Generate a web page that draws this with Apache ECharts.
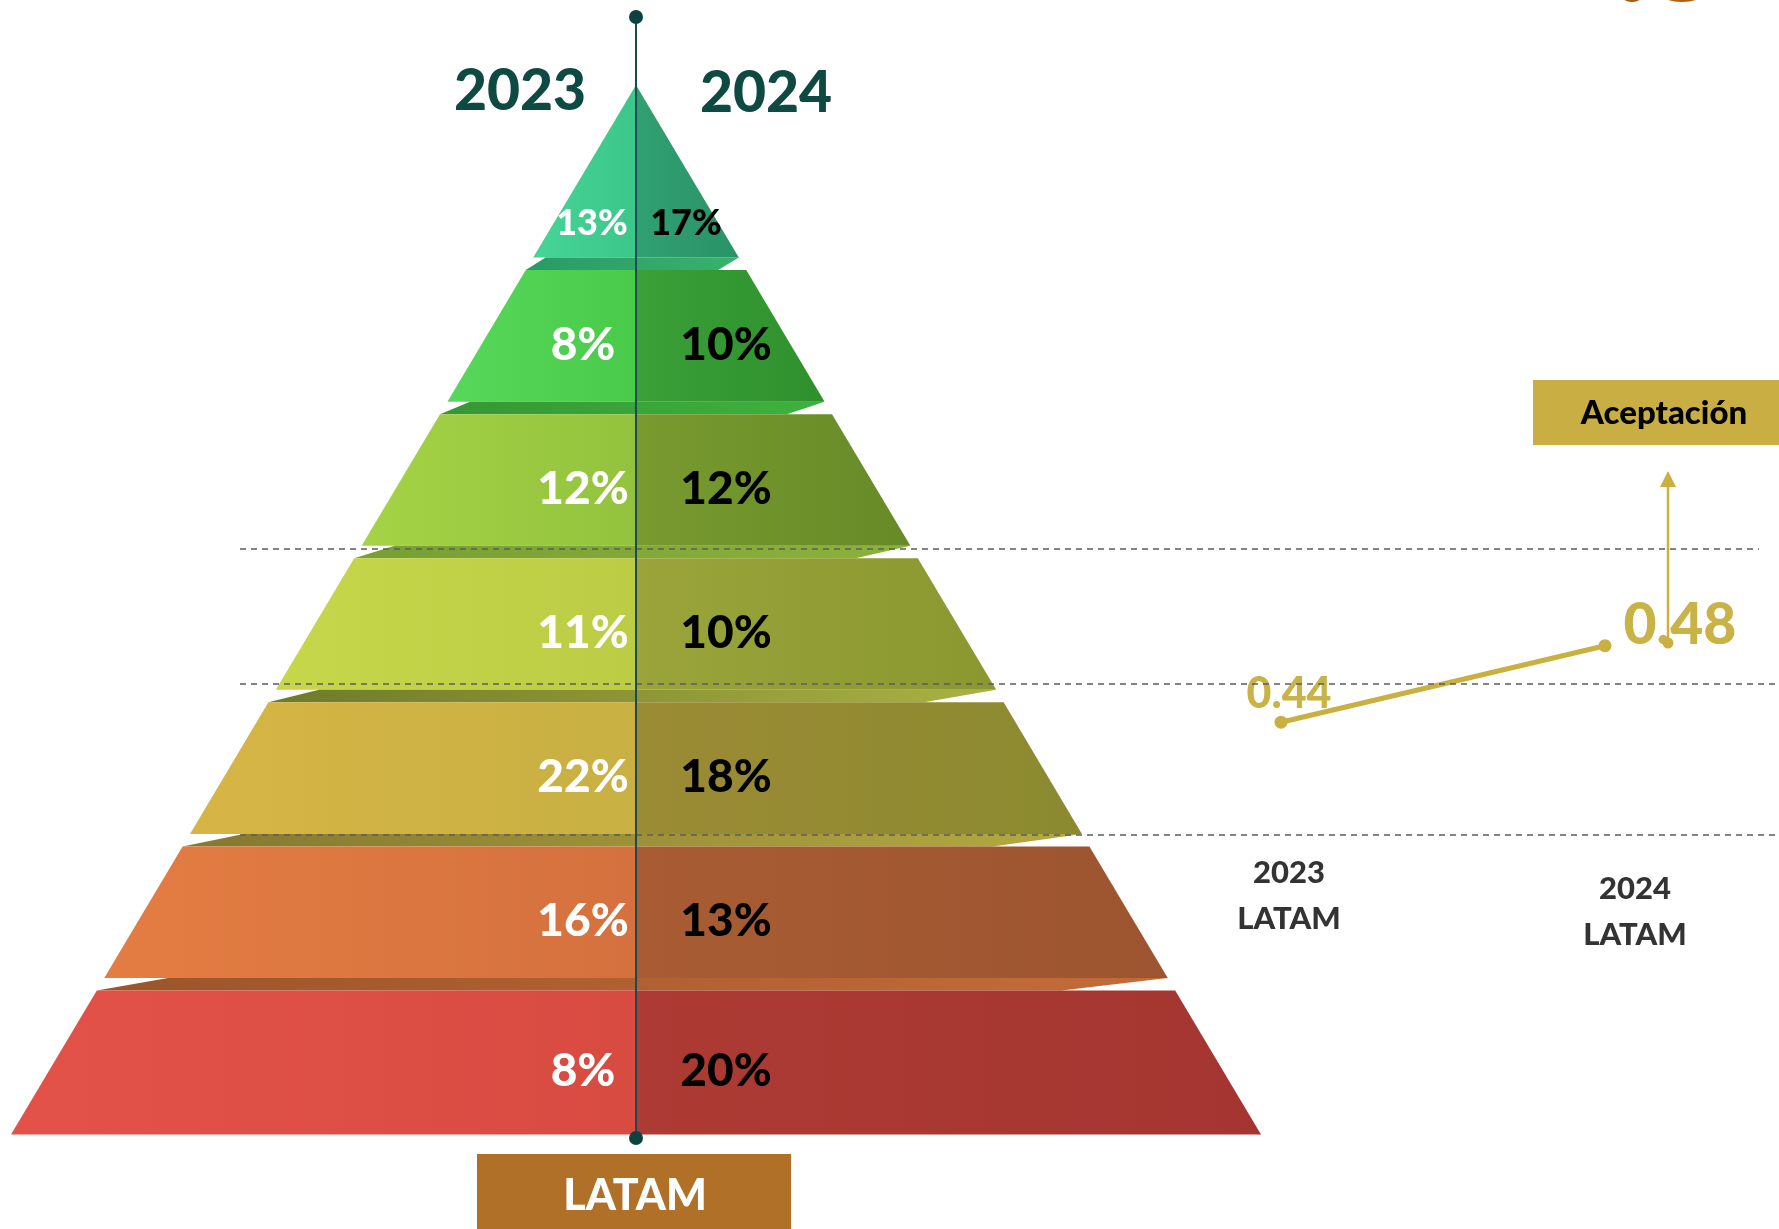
<!DOCTYPE html>
<html>
<head>
<meta charset="utf-8">
<script src="https://cdn.jsdelivr.net/npm/echarts@6/dist/echarts.min.js"></script>
<style>
html,body{margin:0;padding:0;background:#fff;}
#chart{width:1779px;height:1229px;}
</style>
</head>
<body>
<div id="chart"></div>
<script>
// Niveles de la pirámide, de la punta a la base
const niveles = ['N1', 'N2', 'N3', 'N4', 'N5', 'N6', 'N7'];
const pct2023 = [13, 8, 12, 11, 22, 16, 8];
const pct2024 = [17, 10, 12, 10, 18, 13, 20];

// Índice de aceptación LATAM
const periodos = ['2023\nLATAM', '2024\nLATAM'];
const aceptacion = [0.44, 0.48];

// Paleta por nivel: cara 2023 (clara), cara 2024 (oscura) y franja inferior
const colIzq = [
  ['#46d497', '#3cc68a'], ['#58d85a', '#4aca4a'], ['#a5d345', '#93c23e'],
  ['#c6d74a', '#bccc45'], ['#d6b545', '#c8b043'], ['#e37d43', '#d5713e'],
  ['#e35249', '#d84b41']
];
const colDer = [
  ['#30a072', '#2a9268'], ['#3aa037', '#2e902d'], ['#789a2f', '#678a28'],
  ['#9aa43b', '#8a982f'], ['#9b8b35', '#8b8a30'], ['#a95c33', '#9c5530'],
  ['#ad3b34', '#a43530']
];
const colFranja = [
  ['#2a9a66', '#38b26c'], ['#379635', '#3db23d'], ['#76a032', '#8cb23a'],
  ['#6e7a2a', '#aab242'], ['#857830', '#b4aa40'], ['#9a552a', '#c46c3a']
];

const APEX = 0.285;   // altura de la punta por encima de la primera banda (en bandas)
const FRANJA = 12.5;  // grosor de la cara inferior de cada escalón (px)
const FONT = 'Lato';
const PESO = 900;

function grad(c) {
  return new echarts.graphic.LinearGradient(0, 0, 1, 0, [
    { offset: 0, color: c[0] }, { offset: 1, color: c[1] }
  ]);
}

// Geometría de un escalón a partir de los ejes de la rejilla
function geom(params, api) {
  const i = api.value(1);
  const c = api.coord([0, i]);
  const u = api.coord([1, i])[0] - c[0];
  const band = api.size([0, 1])[1];
  const cs = params.coordSys;
  const baseY = cs.y + cs.height;
  const apexY = cs.y - APEX * band;
  const hw = y => u * (y - apexY) / (baseY - apexY);
  const last = i === niveles.length - 1;
  const top = i === 0 ? apexY : c[1] - band / 2;
  const bot = c[1] + band / 2 - (last ? 0 : FRANJA);
  const ly = i === 0 ? bot - 34 : (top + bot) / 2 + 9;
  return { i, cx: c[0], top, bot, hw, last, ly };
}

function renderIzq(params, api) {
  const g = geom(params, api);
  const { i, cx, top, bot, hw } = g;
  const children = [{
    type: 'polygon',
    shape: { points: [[cx - hw(top), top], [cx, top], [cx, bot], [cx - hw(bot), bot]] },
    style: { fill: grad(colIzq[i]) }
  }];
  if (!g.last) {
    const s0 = bot, s1 = bot + FRANJA, w0 = hw(s0);
    children.push({
      type: 'polygon',
      shape: { points: [[cx - w0 * 0.88, s0], [cx + w0, s0], [cx + w0 * 0.8, s1], [cx - hw(s1), s1]] },
      style: { fill: grad(colFranja[i]) }
    });
  }
  children.push({
    type: 'text',
    style: {
      text: api.value(2) + '%', x: cx + (i === 0 ? -44 : -53), y: g.ly,
      align: 'center', verticalAlign: 'middle', fill: '#ffffff',
      fontSize: i === 0 ? 36 : 46, fontWeight: PESO, fontFamily: FONT
    }
  });
  return { type: 'group', children };
}

function renderDer(params, api) {
  const g = geom(params, api);
  const { i, cx, top, bot, hw } = g;
  return {
    type: 'group',
    children: [{
      type: 'polygon',
      shape: { points: [[cx, top], [cx + hw(top), top], [cx + hw(bot), bot], [cx, bot]] },
      style: { fill: grad(colDer[i]) }
    }, {
      type: 'text',
      style: {
        text: api.value(2) + '%', x: cx + (i === 0 ? 50 : 90), y: g.ly,
        align: 'center', verticalAlign: 'middle', fill: '#000000',
        fontSize: i === 0 ? 36 : 46, fontWeight: PESO, fontFamily: FONT
      }
    }]
  };
}

const dorado = '#c9b040';
const dash = { stroke: '#5c5c5c', lineWidth: 1.5, lineDash: [6, 5] };

const option = {
  animation: false,
  backgroundColor: '#ffffff',
  grid: [
    { left: 11, right: 518, top: 126, bottom: 94.4, outerBoundsMode: 'none' },
    { left: 1119, right: 12, top: 607.45, bottom: 392.05, outerBoundsMode: 'none' }
  ],
  xAxis: [
    { type: 'value', gridIndex: 0, min: -1, max: 1, show: false },
    {
      type: 'category', gridIndex: 1,
      data: periodos.map((p, k) => ({
        value: p,
        textStyle: k === 0 ? { padding: [0, 0, 0, 16] } : { padding: [16, 0, 0, 60] }
      })),
      axisLine: { show: false }, axisTick: { show: false }, splitLine: { show: false },
      axisLabel: {
        fontSize: 31, fontWeight: PESO, color: '#333333', fontFamily: FONT,
        lineHeight: 46, margin: 13
      }
    }
  ],
  yAxis: [
    { type: 'category', gridIndex: 0, data: niveles, inverse: true, show: false },
    { type: 'value', gridIndex: 1, min: 0.38, max: 0.5, show: false }
  ],
  series: [
    {
      type: 'custom', name: '2023', xAxisIndex: 0, yAxisIndex: 0,
      renderItem: renderIzq, encode: { x: 0, y: 1 },
      data: pct2023.map((v, i) => [0, i, v])
    },
    {
      type: 'custom', name: '2024', xAxisIndex: 0, yAxisIndex: 0,
      renderItem: renderDer, encode: { x: 0, y: 1 },
      data: pct2024.map((v, i) => [0, i, v])
    },
    {
      type: 'line', name: 'Aceptación', xAxisIndex: 1, yAxisIndex: 1,
      symbol: 'circle', symbolSize: 13,
      lineStyle: { color: dorado, width: 5 },
      itemStyle: { color: dorado },
      label: {
        show: true, color: '#c9b346', fontWeight: PESO, fontFamily: FONT,
        formatter: p => p.value.toFixed(2)
      },
      data: aceptacion.map((v, k) => ({
        value: v,
        label: k === 0
          ? { position: 'top', distance: 0, offset: [8, 0], fontSize: 43 }
          : { position: 'right', distance: 12, offset: [0, -20], fontSize: 57 }
      }))
    }
  ],
  graphic: [
    // líneas guía discontinuas
    { type: 'line', z: 50, shape: { x1: 240, y1: 549, x2: 1759, y2: 549 }, style: dash },
    { type: 'line', z: 50, shape: { x1: 240, y1: 684, x2: 1779, y2: 684 }, style: dash },
    { type: 'line', z: 50, shape: { x1: 240, y1: 835, x2: 1779, y2: 835 }, style: dash },
    // eje central de la pirámide
    { type: 'line', z: 60, shape: { x1: 636, y1: 17, x2: 636, y2: 1138 }, style: { stroke: '#1d4a50', lineWidth: 2 } },
    { type: 'circle', z: 61, shape: { cx: 636, cy: 17, r: 7 }, style: { fill: '#0e4240' } },
    { type: 'circle', z: 61, shape: { cx: 636, cy: 1138, r: 7 }, style: { fill: '#0e4240' } },
    // años
    { type: 'text', z: 60, x: 520, y: 92, style: { text: '2023', align: 'center', verticalAlign: 'middle', fill: '#0f4a42', fontSize: 57, fontWeight: PESO, fontFamily: FONT } },
    { type: 'text', z: 60, x: 766, y: 94, style: { text: '2024', align: 'center', verticalAlign: 'middle', fill: '#0f4a42', fontSize: 57, fontWeight: PESO, fontFamily: FONT } },
    // rótulo inferior
    { type: 'rect', z: 60, shape: { x: 477, y: 1154, width: 314, height: 80 }, style: { fill: '#b07028' } },
    { type: 'text', z: 61, x: 635, y: 1196, style: { text: 'LATAM', align: 'center', verticalAlign: 'middle', fill: '#ffffff', fontSize: 43, fontWeight: PESO, fontFamily: FONT } },
    // rótulo de aceptación con flecha
    { type: 'rect', z: 60, shape: { x: 1533, y: 380, width: 250, height: 65 }, style: { fill: '#c9ae44' } },
    { type: 'text', z: 61, x: 1664, y: 413, style: { text: 'Aceptación', align: 'center', verticalAlign: 'middle', fill: '#000000', fontSize: 33, fontWeight: PESO, fontFamily: FONT } },
    { type: 'line', z: 60, shape: { x1: 1668, y1: 643, x2: 1668, y2: 485 }, style: { stroke: dorado, lineWidth: 2.5 } },
    { type: 'polygon', z: 60, shape: { points: [[1660, 487], [1676, 487], [1668, 471]] }, style: { fill: dorado } },
    { type: 'circle', z: 60, shape: { cx: 1668, cy: 643, r: 5.5 }, style: { fill: dorado } },
    // detalle del logotipo en la esquina
    { type: 'ellipse', z: 60, shape: { cx: 1632, cy: -7, rx: 12, ry: 9 }, style: { fill: '#a8580c' } },
    { type: 'ellipse', z: 60, shape: { cx: 1682, cy: -7, rx: 22, ry: 9 }, style: { fill: '#b0600e' } }
  ]
};

const chart = echarts.init(document.getElementById('chart'), null, { renderer: 'canvas' });
chart.setOption(option);
</script>
</body>
</html>
